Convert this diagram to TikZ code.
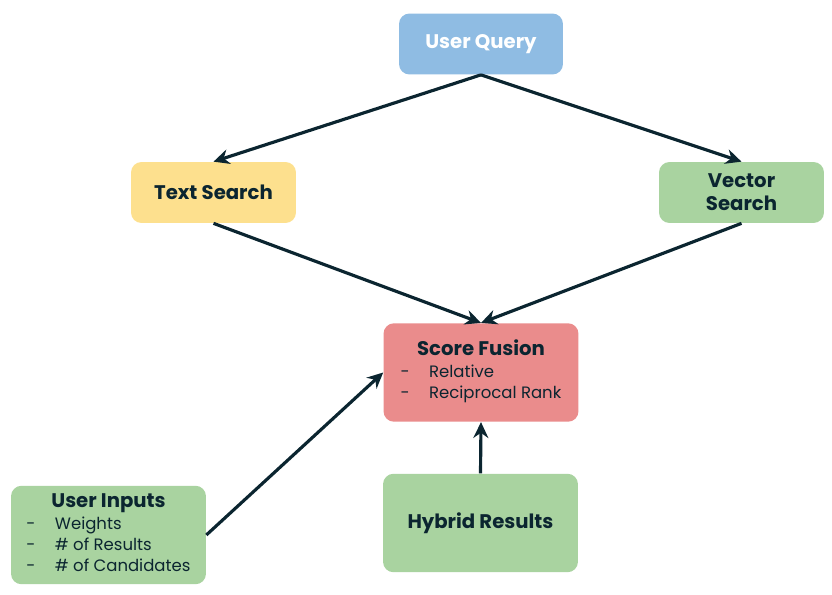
\documentclass[tikz,border=0pt]{standalone}
\usepackage{fontspec}
\setmainfont{Poppins}
\usepackage{xcolor}
\usetikzlibrary{arrows.meta,positioning}

\definecolor{qblue}{HTML}{8FBCE3}
\definecolor{tyellow}{HTML}{FDE08E}
\definecolor{vgreen}{HTML}{A9D3A0}
\definecolor{fred}{HTML}{EA8C8C}
\definecolor{ink}{HTML}{0B2530}

\newcommand{\itemfont}{\mdseries\fontsize{9.4}{13}\selectfont}

\begin{document}
\begin{tikzpicture}[
    x=0.02cm, y=-0.02cm,
    box/.style={rectangle, rounded corners=6pt, text=ink,
                minimum height=1.22cm, align=center, inner sep=2pt,
                font=\fontsize{11.2}{13}\selectfont\bfseries},
    bigbox/.style={box, minimum width=3.9cm, minimum height=1.97cm},
    arr/.style={-{Stealth[length=9pt,width=8.5pt]}, line width=1.8pt, draw=ink},
  ]
  \useasboundingbox (0,0) rectangle (832,595);

  % Query
  \node[box, fill=qblue, text=white, minimum width=3.28cm] (query) at (481, 44) {User Query};

  % Searches
  \node[box, fill=tyellow, minimum width=3.3cm] (text) at (213.5, 192.5) {Text Search};
  \node[box, fill=vgreen, minimum width=3.3cm] (vector) at (741.5, 192.5) {Vector\\Search};

  % Fusion
  \node[bigbox, fill=fred] (fusion) at (481, 372.5) {%
    \begin{tabular}{@{}l@{\hspace{11pt}}l@{}}
      \multicolumn{2}{c}{Score Fusion}\\[-1pt]
      \itemfont - & \itemfont Relative\\[-1pt]
      \itemfont - & \itemfont Reciprocal Rank
    \end{tabular}};

  % Inputs
  \node[bigbox, fill=vgreen] (inputs) at (108.5, 535) {%
    \begin{tabular}{@{}l@{\hspace{11pt}}l@{}}
      \multicolumn{2}{c}{User Inputs}\\[-1pt]
      \itemfont - & \itemfont Weights\\[-1pt]
      \itemfont - & \itemfont \# of Results\\[-1pt]
      \itemfont - & \itemfont \# of Candidates
    \end{tabular}};

  % Results
  \node[bigbox, fill=vgreen] (results) at (480.5, 523) {Hybrid Results};

  % Arrows
  \draw[arr] (query.south) -- (text.north);
  \draw[arr] (query.south) -- (vector.north);
  \draw[arr] (text.south) -- (fusion.north);
  \draw[arr] (vector.south) -- (fusion.north);
  \draw[arr] (inputs.east) -- (fusion.west);
  \draw[arr] (results.north) -- (fusion.south);

\end{tikzpicture}
\end{document}
